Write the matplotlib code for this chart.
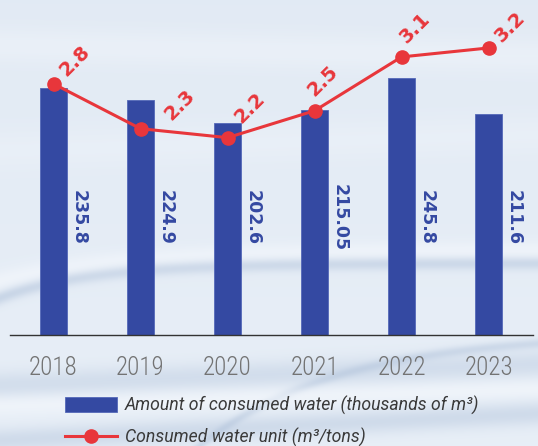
import numpy as np
import matplotlib
matplotlib.use('Agg')
import matplotlib.pyplot as plt
from matplotlib import font_manager

years = ['2018', '2019', '2020', '2021', '2022', '2023']
water = [235.8, 224.9, 202.6, 215.05, 245.8, 211.6]
unit = [2.8, 2.3, 2.2, 2.5, 3.1, 3.2]

# hand-placed offsets (points) for the rate labels so they clear the line
label_nudge = [(11.5, 3), (24.5, 3.5), (12, 8), (2, 8), (6, 7), (11.5, 1.5)]

BLUE = '#3449a2'
RED = '#e8363b'
W, H = 538, 446

# narrow face for the year labels if one is around, plain Roboto otherwise
installed = {f.name for f in font_manager.fontManager.ttflist}
if 'Roboto Condensed' in installed:
    TICK_FONT, TICK_SIZE = 'Roboto Condensed', 18
elif 'Liberation Sans Narrow' in installed:
    TICK_FONT, TICK_SIZE = 'Liberation Sans Narrow', 18
else:
    TICK_FONT, TICK_SIZE = 'Roboto', 15


def water_background(w, h):
    yy, xx = np.mgrid[0:h, 0:w].astype(float)
    top = np.array([0.886, 0.918, 0.957])
    bot = np.array([0.910, 0.937, 0.969])
    t = (yy / h)[..., None]
    img = top * (1 - t) + bot * t
    dark = np.array([0.64, 0.72, 0.83])
    light = np.array([0.97, 0.98, 0.995])

    def band(yc, sigma, amount, color):
        nonlocal img
        g = np.exp(-((yy - yc) / sigma) ** 2)[..., None] * amount
        img = img * (1 - g) + color * g

    band(262 + 35 * np.exp(-xx / 90), 7, 0.45, dark)
    band(250 + 30 * np.exp(-xx / 120), 10, 0.5, light)
    band(345 + 10 * np.exp(-(xx - 538) / 140) - 12, 5, 0.35, dark)
    band(385 - 0.04 * xx, 14, 0.3, dark)
    band(405 - 0.03 * xx, 10, 0.5, light)
    band(440 - 0.05 * xx, 12, 0.35, dark)
    band(45 + 0.02 * xx, 18, 0.35, light)
    band(150 - 0.03 * xx, 20, 0.25, light)
    return np.clip(img, 0, 1)


fig = plt.figure(figsize=(W / 100, H / 100), dpi=100)
bg = fig.add_axes([0, 0, 1, 1], zorder=-10)
bg.imshow(water_background(W, H), aspect='auto', extent=(0, W, H, 0), interpolation='bilinear')
bg.axis('off')

ax = fig.add_axes([10 / W, (H - 335) / H, 523 / W, 325 / H])
ax.set_facecolor('none')
x = np.arange(len(years))
bars = ax.bar(x, water, width=0.31, color=BLUE, edgecolor='#5468b8', linewidth=0.6,
              label='Amount of consumed water (thousands of m³)')
ax.set_xlim(-0.5, 5.51)
ax.set_ylim(0, 310.7)
ax.set_yticks([])
for side in ['top', 'right', 'left']:
    ax.spines[side].set_visible(False)
ax.spines['bottom'].set_color('#333333')
ax.spines['bottom'].set_linewidth(1.0)
ax.set_xticks(x)
ax.set_xticklabels(years, family=TICK_FONT, fontsize=TICK_SIZE, fontweight='light',
                   color='#737373')
ax.tick_params(axis='x', length=0, pad=15)

for xi, val in zip(x, water):
    ax.text(xi + 0.29, 112, f'{val:g}', rotation=270, ha='center', va='center',
            fontsize=12.5, fontweight='bold', color=BLUE, family='DejaVu Sans')

ax2 = ax.twinx()
ax2.set_ylim(0, 3.623)
ax2.set_yticks([])
for side in ax2.spines:
    ax2.spines[side].set_visible(False)
line, = ax2.plot(x, unit, color=RED, linewidth=2.2, marker='o', markersize=9.5,
                 label='Consumed water unit (m³/tons)')
for xi, val, nudge in zip(x, unit, label_nudge):
    ax2.annotate(f'{val:g}', (xi, val), xytext=nudge, textcoords='offset points',
                 rotation=45, rotation_mode='anchor', ha='left', va='bottom',
                 fontsize=14, fontweight='bold', color=RED, family='DejaVu Sans')

leg = fig.legend([bars, line], [bars.get_label(), line.get_label()],
                 loc='upper left', bbox_to_anchor=(65 / W, 1 - 396 / H),
                 frameon=False, borderpad=0, borderaxespad=0,
                 handlelength=2.95, handleheight=0.9, handletextpad=0.45,
                 labelspacing=0.72,
                 prop={'family': 'Roboto', 'style': 'italic', 'size': 12.7})
for t in leg.get_texts():
    t.set_color('#3a3a3a')

fig.savefig('out.png', dpi=100)
